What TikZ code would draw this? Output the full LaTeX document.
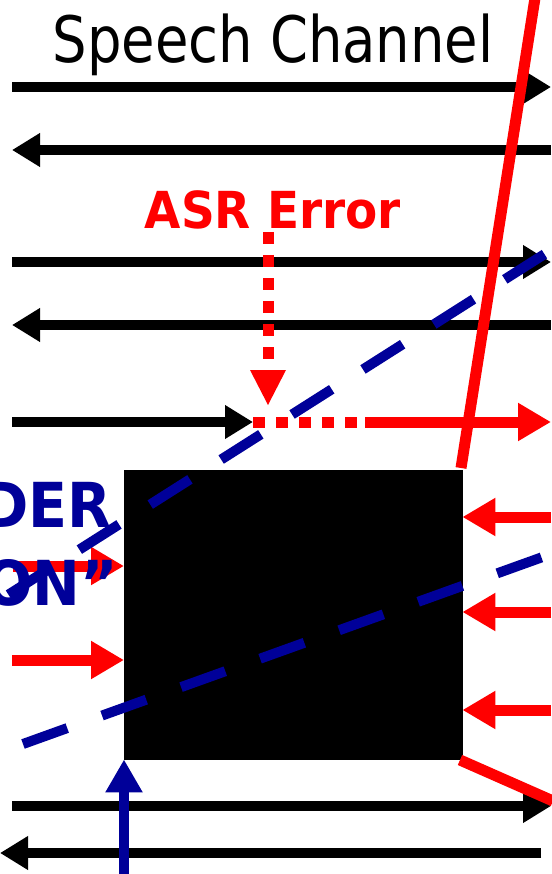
\documentclass[tikz,border=0pt]{standalone}
\usepackage{fontspec}
\usetikzlibrary{arrows.meta}
\newfontfamily\titlefont[FakeStretch=0.85]{DejaVu Sans}
\newfontfamily\labelfont[FakeStretch=0.92]{DejaVu Sans Bold}
\definecolor{navy}{HTML}{000099}
\definecolor{alarm}{HTML}{FF0000}
\tikzset{
  flow/.style={line width=10pt, -{Triangle[length=28pt,width=32pt]}},
  redflow/.style={line width=11pt, alarm, -{Triangle[length=33pt,width=36pt]}},
  dotted red/.style={line width=11pt, alarm, dash pattern=on 12pt off 11pt},
  bluedash/.style={line width=10pt, navy, dash pattern=on 47pt off 37pt},
  slash/.style={line width=11pt, alarm},
}
\begin{document}
\begin{tikzpicture}[x=1pt,y=-1pt]
\useasboundingbox (0,0) rectangle (551,874);

% title
\node[anchor=base, inner sep=0pt] (title) at (273,63) {\titlefont\fontsize{64}{70}\selectfont Speech Channel};

% endpoints of the channel lines
\coordinate (l1) at (12,87);  \coordinate (r1) at (551,87);
\coordinate (l2) at (12,150); \coordinate (r2) at (551,150);
\coordinate (l3) at (12,262); \coordinate (r3) at (551,262);
\coordinate (l4) at (12,325); \coordinate (r4) at (551,325);
\coordinate (l5) at (12,422); \coordinate (m5) at (253,422);
\coordinate (d5) at (365,422); \coordinate (r5) at (551,422);
\coordinate (l8) at (12,806); \coordinate (r8) at (551,806);
\coordinate (l9) at (0,853);  \coordinate (r9) at (541,853);

% black box
\node[fill=black, draw=black, minimum width=338pt, minimum height=289pt, inner sep=0pt, anchor=north west] (box) at (124,470) {};

% channel arrows
\draw[flow] (l1) -- (r1);
\draw[flow] (r2) -- (l2);
\draw[flow] (l3) -- (r3);
\draw[flow] (r4) -- (l4);
\draw[flow] (l5) -- (m5);
\draw[flow] (l8) -- (r8);
\draw[flow] (r9) -- (l9);

% error path
\node[anchor=base, inner sep=0pt, text=alarm] (asr) at (273,229) {\labelfont\fontsize{51}{56}\selectfont ASR Error};
\coordinate (e0) at (268,232);
\coordinate (e1) at (268,405);
\draw[dotted red] (e0) -- (268,370);
\fill[alarm] (250,370) -- (286,370) -- (e1) -- cycle;
\draw[dotted red] (m5) -- (d5);
\draw[redflow] (d5) -- (r5);

% red arrows into the box
\coordinate (a1) at (551,517); \coordinate (a2) at (551,612); \coordinate (a3) at (551,710);
\draw[redflow] (a1) -- (box.east |- a1);
\draw[redflow] (a2) -- (box.east |- a2);
\draw[redflow] (a3) -- (box.east |- a3);
\coordinate (b1) at (13,566); \coordinate (b2) at (12,660);
\draw[redflow] (b1) -- (box.west |- b1);
\draw[redflow] (b2) -- (box.west |- b2);

% blue text
\node[anchor=base east, inner sep=0pt, text=navy] (t1) at (112,527) {\labelfont\fontsize{62}{66}\selectfont DER};
\node[anchor=base west, inner sep=0pt, text=navy] (t2) at (-16,605) {\labelfont\fontsize{62}{66}\selectfont ON”};

% red slashes
\coordinate (s0) at (535,-2);
\coordinate (s1) at (461,468);
\draw[slash] (s0) -- (s1);
\coordinate (s2) at (460,760);
\coordinate (s3) at (553,801);
\draw[slash] (s2) -- (s3);

% blue dashed lines
\coordinate (p0) at (0,600);
\coordinate (p1) at (551,250);
\draw[bluedash, dash phase=74pt] (p0) -- (p1);
\coordinate (q0) at (23,744);
\coordinate (q1) at (551,554);
\draw[bluedash] (q0) -- (q1);

% vertical blue arrow
\coordinate (v0) at (124,880);
\draw[line width=10pt, navy, -{Triangle[length=33pt,width=35pt]}] (v0) -- (box.south west);
\end{tikzpicture}
\end{document}
